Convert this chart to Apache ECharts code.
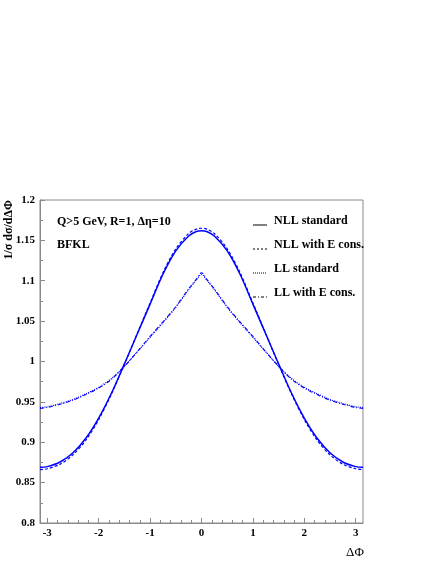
<!DOCTYPE html>
<html>
<head>
<meta charset="utf-8">
<style>
html,body{margin:0;padding:0;background:#fff;}
#c{width:436px;height:564px;}
</style>
<script src="https://cdn.jsdelivr.net/npm/echarts@6/dist/echarts.min.js"></script>
</head>
<body>
<div id="c"></div>
<script>
// Delta Phi sample positions
const phi = [-3.1416,-3,-2.75,-2.5,-2.25,-2,-1.75,-1.5,-1.25,-1,-0.75,-0.5,-0.25,-0.1,0,0.1,0.25,0.5,0.75,1,1.25,1.5,1.75,2,2.25,2.5,2.75,3,3.1416];
const nllStandard = [0.869,0.8698,0.8755,0.887,0.905,0.930,0.961,0.997,1.034,1.071,1.108,1.137,1.1555,1.161,1.162,1.161,1.1555,1.137,1.108,1.071,1.034,0.997,0.961,0.930,0.905,0.887,0.8755,0.8698,0.869];
const nllEcons = [0.8662,0.8672,0.8728,0.8845,0.9025,0.928,0.960,0.9965,1.0345,1.0725,1.110,1.1395,1.1585,1.164,1.165,1.164,1.1585,1.1395,1.110,1.0725,1.0345,0.9965,0.960,0.928,0.9025,0.8845,0.8728,0.8672,0.8662];
const llStandard = [0.943,0.944,0.948,0.953,0.960,0.968,0.979,0.994,1.012,1.030,1.048,1.067,1.089,1.101,1.108,1.101,1.089,1.067,1.048,1.030,1.012,0.994,0.979,0.968,0.960,0.953,0.948,0.944,0.943];
const llEcons = [0.942,0.943,0.947,0.952,0.959,0.967,0.978,0.994,1.012,1.031,1.049,1.068,1.090,1.102,1.110,1.102,1.090,1.068,1.049,1.031,1.012,0.994,0.978,0.967,0.959,0.952,0.947,0.943,0.942];
const xMajorTicks = [-3,-2,-1,0,1,2,3];
const xMinorTicks = [-3,-2.8,-2.6,-2.4,-2.2,-2,-1.8,-1.6,-1.4,-1.2,-1,-0.8,-0.6,-0.4,-0.2,0,0.2,0.4,0.6,0.8,1,1.2,1.4,1.6,1.8,2,2.2,2.4,2.6,2.8,3];
const seriesNames = ['NLL standard','NLL with E cons.','LL standard','LL with E cons.'];

const pair = v => phi.map((p,i)=>[p, v[i]]);
const serif = '"Liberation Serif","DejaVu Serif",serif';
const blue = '#0000ff';
const axisCol = '#8a8a8a';

const chart = echarts.init(document.getElementById('c'), null, {renderer:'canvas'});
const lineStyles = [
  {type:'solid', width:1.5},
  {type:[3,2], width:1.2},
  {type:[1,1.2], width:1.2},
  {type:[4,2,1,2], width:1.1}
];
const dataSets = [nllStandard, nllEcons, llStandard, llEcons];

const legendY = [225, 249, 273, 297];
const legendGraphics = [];
seriesNames.forEach((n,i)=>{
  legendGraphics.push({
    type:'line', shape:{x1:253,y1:legendY[i],x2:267,y2:legendY[i]},
    style:{stroke:'#000', lineWidth:1, lineDash: i===0?null:(i===1?[2,2]:(i===2?[1,1]:[3,2,1,2]))}
  });
  legendGraphics.push({
    type:'text', x:274, y:legendY[i]-4,
    style:{text:n, font:'bold 12px '+serif, fill:'#000', textAlign:'left', textVerticalAlign:'middle'}
  });
});

chart.setOption({
  backgroundColor:'#fff',
  animation:false,
  grid:{left:40, right:73, top:200, bottom:41, show:true, borderColor:axisCol, borderWidth:1, containLabel:false},
  xAxis:[{
    type:'value', min:-Math.PI, max:Math.PI,
    axisLine:{show:true, onZero:false, lineStyle:{color:axisCol}},
    axisTick:{show:true, inside:true, length:5, customValues:xMajorTicks, lineStyle:{color:axisCol}},
    axisLabel:{show:true, customValues:xMajorTicks, fontFamily:serif, fontWeight:'bold', fontSize:11, color:'#000', margin:5},
    splitLine:{show:false}
  },{
    type:'value', min:-Math.PI, max:Math.PI, position:'bottom',
    axisLine:{show:false, onZero:false},
    axisTick:{show:true, inside:true, length:3, customValues:xMinorTicks, lineStyle:{color:axisCol}},
    axisLabel:{show:false},
    splitLine:{show:false}
  }],
  yAxis:{
    type:'value', min:0.8, max:1.2, interval:0.05,
    axisLine:{show:true, onZero:false, lineStyle:{color:axisCol}},
    axisTick:{show:true, inside:true, length:5, lineStyle:{color:axisCol}},
    minorTick:{show:true, splitNumber:2, length:3, lineStyle:{color:axisCol}},
    axisLabel:{fontFamily:serif, fontWeight:'bold', fontSize:11, color:'#000', margin:5},
    splitLine:{show:false}
  },
  series: dataSets.map((d,i)=>({
    name:seriesNames[i], type:'line', xAxisIndex:0, data:pair(d), smooth:0.3,
    showSymbol:false, symbol:'none',
    lineStyle:Object.assign({color:blue}, lineStyles[i]),
    z: 10-i
  })),
  graphic:[
    {type:'text', x:57, y:222, style:{text:'Q>5 GeV, R=1, Δη=10', font:'bold 12px '+serif, fill:'#000', textAlign:'left', textVerticalAlign:'middle'}},
    {type:'text', x:57, y:245, style:{text:'BFKL', font:'bold 12px '+serif, fill:'#000', textAlign:'left', textVerticalAlign:'middle'}},
    {type:'text', x:355, y:553, style:{text:'ΔΦ', font:'13px '+serif, fill:'#000', textAlign:'center', textVerticalAlign:'middle'}},
    {type:'text', x:9, y:200, rotation:Math.PI/2, style:{text:'1/σ dσ/dΔΦ', font:'bold 12px '+serif, fill:'#000', textAlign:'right', textVerticalAlign:'middle'}}
  ].concat(legendGraphics)
});
</script>
</body>
</html>
